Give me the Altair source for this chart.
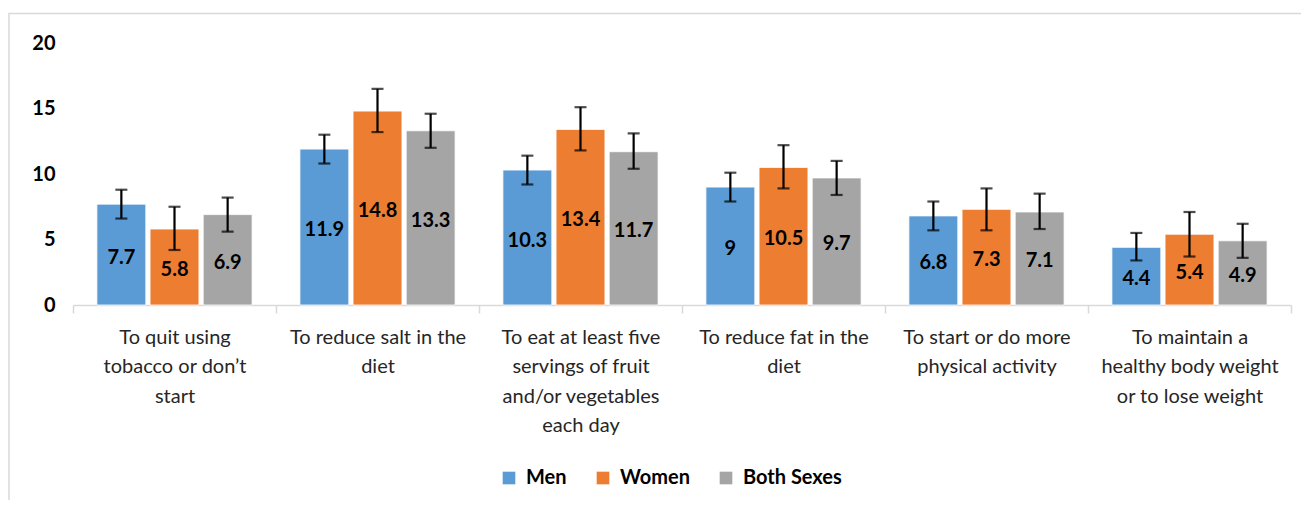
import altair as alt
import pandas as pd

categories = [
    "To quit using|tobacco or don\u2019t|start",
    "To reduce salt in the|diet",
    "To eat at least five|servings of fruit|and/or vegetables|each day",
    "To reduce fat in the|diet",
    "To start or do more|physical activity",
    "To maintain a|healthy body weight|or to lose weight",
]
groups = ["Men", "Women", "Both Sexes"]
colors = ["#5B9BD5", "#ED7D31", "#A5A5A5"]

men = [7.7, 11.9, 10.3, 9.0, 6.8, 4.4]
women = [5.8, 14.8, 13.4, 10.5, 7.3, 5.4]
both = [6.9, 13.3, 11.7, 9.7, 7.1, 4.9]

men_lo = [6.6, 10.8, 9.2, 7.9, 5.7, 3.4]
men_hi = [8.8, 13.0, 11.4, 10.1, 7.9, 5.5]
women_lo = [4.2, 13.2, 11.8, 8.9, 5.7, 3.7]
women_hi = [7.5, 16.5, 15.1, 12.2, 8.9, 7.1]
both_lo = [5.6, 12.0, 10.4, 8.4, 5.8, 3.6]
both_hi = [8.2, 14.6, 13.1, 11.0, 8.5, 6.2]

rows = []
for g, vals, lo, hi in [("Men", men, men_lo, men_hi),
                        ("Women", women, women_lo, women_hi),
                        ("Both Sexes", both, both_lo, both_hi)]:
    for c, v, l, h in zip(categories, vals, lo, hi):
        rows.append({"category": c, "group": g, "value": v, "lo": l, "hi": h,
                     "label": ("%g" % v)})
df = pd.DataFrame(rows)

FONT = "Lato"

x = alt.X("category:N", sort=categories, title=None,
          scale=alt.Scale(paddingInner=0, paddingOuter=0),
          axis=alt.Axis(labelExpr="split(datum.label, '|')", labelAngle=0,
                        labelFontSize=20, labelFont=FONT, labelColor="#262626",
                        labelLineHeight=29.5, labelPadding=14, labelBaseline="top",
                        domainColor="#D9D9D9", domainWidth=1.5,
                        tickColor="#D9D9D9", tickWidth=1.5, tickSize=8,
                        tickBand="extent", grid=False))
xo = alt.XOffset("group:N", sort=groups,
                 scale=alt.Scale(paddingInner=0.08, paddingOuter=0.45))
y_scale = alt.Scale(domain=[0, 20])
y_axis = alt.Axis(values=[0, 5, 10, 15, 20], grid=False, domain=False,
                  ticks=False, labelFontSize=20, labelFont=FONT,
                  labelFontWeight="bold", labelColor="#000000",
                  labelPadding=18)
y_kw = dict(scale=y_scale, title=None, axis=y_axis)

base = alt.Chart(df).encode(x=x, xOffset=xo)

frame = alt.Chart(pd.DataFrame({"k": [0]})).mark_rect(
    fill="transparent", stroke="#D9D9D9", strokeWidth=1.5
).encode(x=alt.value(-64), x2=alt.value(1270), y=alt.value(-29.5), y2=alt.value(490))

bars = base.mark_bar(stroke="white", strokeWidth=0.8).encode(
    y=alt.Y("value:Q", **y_kw),
    color=alt.Color("group:N", sort=groups,
                    scale=alt.Scale(domain=groups, range=colors),
                    legend=alt.Legend(title=None, orient="none", direction="horizontal",
                                      legendX=426, legendY=425,
                                      symbolType="square", symbolSize=160,
                                      symbolStrokeWidth=0,
                                      labelFontSize=20, labelFont=FONT,
                                      labelFontWeight="bold", labelColor="#000000",
                                      columnPadding=26, labelOffset=7)),
)

err = base.mark_rule(color="black", strokeWidth=2.2).encode(
    y=alt.Y("lo:Q", **y_kw), y2="hi:Q")
cap_lo = base.mark_tick(color="black", thickness=2.2, size=12, orient="horizontal").encode(
    y=alt.Y("lo:Q", **y_kw))
cap_hi = base.mark_tick(color="black", thickness=2.2, size=12, orient="horizontal").encode(
    y=alt.Y("hi:Q", **y_kw))

labels = base.transform_calculate(mid="datum.value / 2").mark_text(
    font=FONT, fontSize=20, fontWeight="bold", color="black", baseline="middle", dy=3
).encode(y=alt.Y("mid:Q", **y_kw), text="label:N")

chart = alt.layer(frame, bars, err, cap_lo, cap_hi, labels).properties(
    width=1218, height=262,
    autosize=alt.AutoSizeParams(type="none"),
    padding={"left": 65, "top": 35, "right": 10, "bottom": 195},
).configure(
    background="white",
    view=alt.ViewConfig(stroke="transparent", strokeWidth=0),
    style={"cell": {"stroke": "transparent", "strokeWidth": 0}},
)

chart.save("out.html", embed_options={"renderer": "svg", "actions": False})
